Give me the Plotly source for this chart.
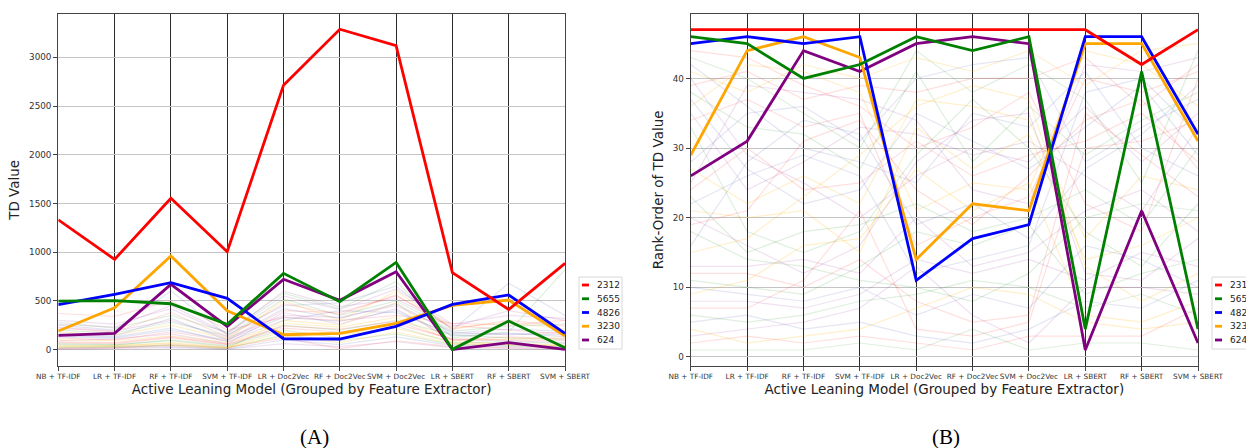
import plotly.graph_objects as go

categories = ["NB + TF-IDF", "LR + TF-IDF", "RF + TF-IDF", "SVM + TF-IDF", "LR + Doc2Vec",
              "RF + Doc2Vec", "SVM + Doc2Vec", "LR + SBERT", "RF + SBERT", "SVM + SBERT"]

series_names = ["2312", "5655", "4826", "3230", "624"]
series_colors = ["red", "green", "blue", "orange", "purple"]

# Panel A: TD values
td_2312 = [1332, 926, 1553, 1004, 2714, 3288, 3119, 789, 412, 885]
td_5655 = [498, 502, 470, 259, 782, 491, 895, 2, 293, 18]
td_4826 = [460, 567, 686, 525, 111, 108, 238, 464, 560, 166]
td_3230 = [190, 429, 960, 398, 152, 166, 269, 454, 508, 139]
td_624 = [146, 166, 669, 238, 721, 505, 799, 0, 70, 2]

# Panel B: rank-order of TD values
rk_2312 = [47, 47, 47, 47, 47, 47, 47, 47, 42, 47]
rk_5655 = [46, 45, 40, 42, 46, 44, 46, 4, 41, 4]
rk_4826 = [45, 46, 45, 46, 11, 17, 19, 46, 46, 32]
rk_3230 = [29, 44, 46, 43, 14, 22, 21, 45, 45, 31]
rk_624 = [26, 31, 44, 41, 45, 46, 45, 1, 21, 2]

# faint background samples (panel A)
bg_td = [
    [370, 340, 500, 200, 330, 300, 350, 270, 250, 300],
    [280, 220, 350, 180, 580, 420, 700, 120, 180, 820],
    [250, 200, 600, 150, 450, 480, 650, 200, 680, 350],
    [20, 25, 40, 10, 300, 250, 480, 60, 50, 40],
    [230, 190, 300, 120, 350, 330, 450, 180, 150, 180],
    [120, 100, 180, 90, 400, 380, 550, 250, 200, 160],
    [60, 50, 90, 30, 250, 200, 300, 150, 120, 100],
    [15, 20, 30, 5, 100, 50, 130, 40, 30, 25],
    [180, 150, 250, 110, 500, 300, 600, 220, 280, 210],
    [90, 110, 160, 60, 380, 260, 420, 100, 90, 70],
    [10, 15, 50, 20, 120, 10, 90, 30, 20, 15],
    [200, 170, 280, 140, 520, 350, 500, 190, 240, 260],
    [140, 130, 220, 80, 300, 400, 380, 160, 170, 130],
    [40, 35, 70, 25, 180, 150, 220, 80, 60, 45],
    [300, 260, 420, 160, 600, 440, 520, 230, 400, 300],
    [70, 60, 120, 50, 220, 180, 260, 110, 100, 90],
    [25, 30, 45, 15, 150, 90, 160, 50, 40, 30],
    [160, 140, 320, 100, 420, 320, 470, 170, 210, 190],
    [100, 90, 140, 70, 270, 230, 330, 90, 110, 120],
    [5, 10, 20, 5, 60, 30, 80, 20, 10, 5],
    [220, 180, 380, 130, 470, 360, 560, 210, 300, 240],
    [50, 45, 100, 40, 200, 120, 240, 70, 80, 60],
    [130, 120, 200, 100, 330, 290, 400, 140, 160, 150],
    [30, 40, 60, 20, 140, 70, 180, 60, 50, 35],
    [260, 230, 450, 170, 550, 410, 620, 260, 350, 320],
    [80, 70, 130, 55, 240, 210, 290, 100, 130, 110],
]

# faint background samples (panel B)
bg_rk = [
    [44, 43, 39, 36, 30, 33, 38, 22, 18, 40],
    [43, 40, 35, 30, 44, 38, 42, 37, 25, 44],
    [42, 36, 30, 28, 25, 35, 33, 41, 30, 26],
    [41, 38, 42, 40, 43, 41, 44, 39, 44, 45],
    [40, 29, 25, 20, 26, 30, 28, 36, 28, 35],
    [39, 41, 37, 39, 38, 40, 40, 43, 36, 42],
    [38, 33, 32, 27, 41, 28, 36, 29, 34, 38],
    [37, 27, 22, 24, 35, 31, 27, 33, 39, 29],
    [36, 42, 41, 38, 21, 25, 24, 44, 42, 36],
    [35, 24, 28, 33, 32, 29, 31, 26, 21, 33],
    [34, 37, 33, 35, 16, 20, 23, 40, 38, 41],
    [33, 18, 15, 18, 29, 37, 30, 18, 13, 22],
    [28, 35, 36, 31, 40, 42, 43, 28, 33, 37],
    [27, 22, 26, 22, 37, 36, 34, 17, 26, 24],
    [25, 39, 38, 37, 34, 24, 22, 42, 41, 43],
    [24, 30, 24, 25, 31, 26, 29, 31, 35, 28],
    [23, 15, 18, 19, 22, 18, 20, 24, 19, 30],
    [22, 26, 29, 26, 12, 14, 16, 38, 40, 32],
    [21, 20, 21, 15, 33, 27, 32, 14, 16, 20],
    [20, 16, 12, 16, 28, 34, 35, 12, 11, 17],
    [19, 21, 31, 34, 24, 19, 26, 34, 37, 27],
    [18, 14, 13, 11, 10, 8, 12, 20, 22, 21],
    [16, 28, 34, 32, 19, 22, 17, 27, 32, 39],
    [15, 17, 23, 29, 36, 39, 37, 13, 8, 12],
    [13, 13, 14, 12, 20, 13, 15, 21, 24, 18],
    [12, 12, 10, 14, 8, 5, 6, 35, 29, 23],
    [11, 10, 9, 13, 18, 16, 19, 9, 12, 14],
    [10, 9, 8, 10, 6, 9, 7, 16, 14, 10],
    [9, 11, 16, 17, 27, 21, 25, 6, 5, 8],
    [8, 8, 7, 9, 14, 12, 14, 11, 15, 13],
    [7, 7, 11, 21, 4, 3, 5, 30, 31, 34],
    [6, 5, 6, 8, 9, 11, 10, 7, 9, 6],
    [5, 6, 4, 5, 3, 2, 4, 8, 7, 11],
    [4, 2, 3, 4, 7, 10, 9, 5, 4, 5],
    [3, 4, 5, 7, 13, 6, 2, 10, 10, 9],
    [2, 3, 2, 3, 2, 1, 3, 3, 3, 7],
    [1, 1, 1, 2, 1, 4, 1, 2, 2, 1],
]

faint_colors = ["rgba(255,0,0,0.13)", "rgba(0,128,0,0.13)", "rgba(30,50,160,0.12)",
                "rgba(255,180,0,0.2)", "rgba(128,0,128,0.12)"]

td_series = [td_2312, td_5655, td_4826, td_3230, td_624]
rk_series = [rk_2312, rk_5655, rk_4826, rk_3230, rk_624]

xpos = list(range(len(categories)))
FONT = "DejaVu Sans"
W, H = 1246, 448

fig = go.Figure()

for i, row in enumerate(bg_td):
    fig.add_trace(go.Scatter(x=xpos, y=row, mode="lines", xaxis="x", yaxis="y",
                             line=dict(color=faint_colors[i % 5], width=1.2),
                             showlegend=False, hoverinfo="skip"))
for i, row in enumerate(bg_rk):
    fig.add_trace(go.Scatter(x=xpos, y=row, mode="lines", xaxis="x2", yaxis="y2",
                             line=dict(color=faint_colors[i % 5], width=1.2),
                             showlegend=False, hoverinfo="skip"))

order = [4, 3, 2, 1, 0]
for k in order:
    fig.add_trace(go.Scatter(x=xpos, y=td_series[k], mode="lines", xaxis="x", yaxis="y",
                             name=series_names[k], showlegend=False,
                             line=dict(color=series_colors[k], width=2.8)))
for k in order:
    fig.add_trace(go.Scatter(x=xpos, y=rk_series[k], mode="lines", xaxis="x2", yaxis="y2",
                             name=series_names[k], showlegend=False,
                             line=dict(color=series_colors[k], width=2.8)))


def xaxis_common(domain, anchor):
    return dict(domain=domain, range=[0, 9], tickmode="array", tickvals=xpos, anchor=anchor,
                ticktext=categories, tickangle=0,
                tickfont=dict(size=7.3, color="#333", family=FONT),
                showgrid=True, gridcolor="#2a2a2a", gridwidth=1.3, zeroline=False,
                showline=True, mirror=True, linecolor="#444", linewidth=1.2,
                ticks="outside", ticklen=3.5, tickcolor="#444",
                title=dict(text="Active Leaning Model (Grouped by Feature Extractor)",
                           font=dict(size=13.5, color="#222", family=FONT), standoff=3))


def yaxis_common(domain, rng, dtick, title, anchor):
    return dict(domain=domain, range=rng, dtick=dtick, tick0=0, anchor=anchor,
                tickfont=dict(size=8.8, color="#333", family=FONT),
                showgrid=True, gridcolor="#c4c4c4", gridwidth=1, zeroline=False,
                showline=True, mirror=True, linecolor="#444", linewidth=1.2,
                ticks="outside", ticklen=4, tickcolor="#444",
                title=dict(text=title, font=dict(size=13.5, color="#222", family=FONT), standoff=6))


ydom = [1 - 366 / H, 1 - 13.7 / H]

# hand-built matplotlib-style legends (short line samples)
shapes = []
annotations = []
legend_boxes = [(579, 622), (1212, 1258)]
for (bx0, bx1) in legend_boxes:
    shapes.append(dict(type="rect", xref="paper", yref="paper",
                       x0=bx0 / W, x1=bx1 / W, y0=1 - 349 / H, y1=1 - 277 / H,
                       line=dict(color="#d8d8d8", width=1), fillcolor="white", layer="above"))
    for j, (nm, col) in enumerate(zip(series_names, series_colors)):
        yc = 285 + j * 13.75
        shapes.append(dict(type="line", xref="paper", yref="paper",
                           x0=(bx0 + 3) / W, x1=(bx0 + 10) / W, y0=1 - yc / H, y1=1 - yc / H,
                           line=dict(color=col, width=2.8), layer="above"))
        annotations.append(dict(text=nm, x=(bx0 + 15.5) / W, y=1 - yc / H, xref="paper", yref="paper",
                                xanchor="left", yanchor="middle", showarrow=False,
                                font=dict(family=FONT, size=9, color="#222")))

for lab, cx in [("(A)", 314), ("(B)", 946)]:
    annotations.append(dict(text=lab, x=cx / W, y=1 - 437 / H, xref="paper", yref="paper",
                            xanchor="center", yanchor="middle", showarrow=False,
                            font=dict(family="Liberation Serif", size=21, color="black")))

fig.update_layout(
    width=W, height=H,
    margin=dict(l=0, r=0, t=0, b=0, autoexpand=False),
    paper_bgcolor="white", plot_bgcolor="white",
    font=dict(family=FONT, color="#222"),
    xaxis=xaxis_common([58.3 / W, 565 / W], "y"),
    xaxis2=xaxis_common([690.8 / W, 1198 / W], "y2"),
    yaxis=yaxis_common(ydom, [-169, 3448], 500, "TD Value", "x"),
    yaxis2=yaxis_common(ydom, [-1.3, 49.3], 10, "Rank-Order of TD Value", "x2"),
    showlegend=False,
    shapes=shapes,
    annotations=annotations,
)

fig.write_html("out.html", config={"displayModeBar": False},
               post_script="document.body.style.margin='0';document.body.style.overflow='hidden';")
